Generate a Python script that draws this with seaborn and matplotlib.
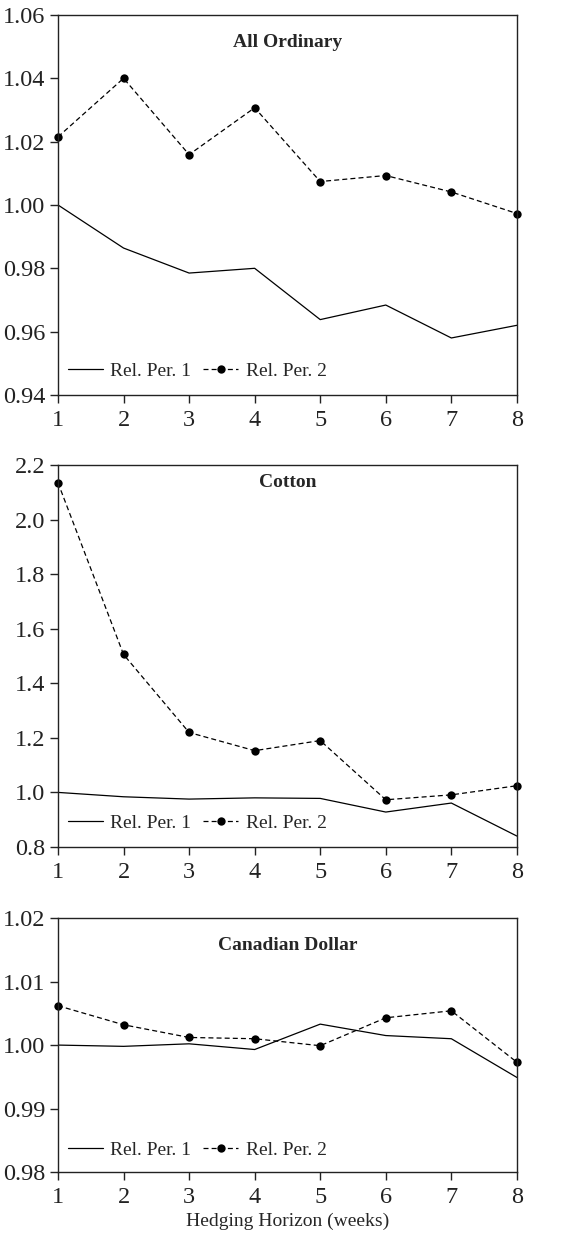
import numpy as np
import pandas as pd
import matplotlib
matplotlib.use("Agg")
import matplotlib.pyplot as plt
import seaborn as sns

# hedging horizon in weeks
horizon = [1, 2, 3, 4, 5, 6, 7, 8]

# relative performance
allord_per1 = [1.000, 0.9864, 0.9785, 0.9800, 0.9638, 0.9684, 0.9580, 0.9620]
allord_per2 = [1.0215, 1.0400, 1.0159, 1.0307, 1.0074, 1.0093, 1.0041, 0.9973]

cotton_per1 = [1.000, 0.984, 0.9755, 0.980, 0.978, 0.928, 0.961, 0.840]
cotton_per2 = [2.135, 1.5055, 1.2196, 1.153, 1.190, 0.973, 0.991, 1.0245]

cad_per1 = [1.0000, 0.9998, 1.0002, 0.9993, 1.0033, 1.0015, 1.0010, 0.9949]
cad_per2 = [1.0062, 1.0032, 1.0012, 1.0010, 0.9999, 1.0043, 1.0054, 0.9973]

titles = ["All Ordinary", "Cotton", "Canadian Dollar"]
ylims = [(0.94, 1.06), (0.8, 2.2), (0.98, 1.02)]
yticks = [np.arange(0.94, 1.0601, 0.02), np.arange(0.8, 2.201, 0.2), np.arange(0.98, 1.0201, 0.01)]
yfmt = ["{:.2f}", "{:.1f}", "{:.2f}"]
# distance of the panel title below the top frame, in pixels
title_drop = [28, 18, 27]

sns.set_style("white")
plt.rcParams["font.family"] = ["Liberation Serif", "DejaVu Serif"]
plt.rcParams["axes.edgecolor"] = "#222222"
plt.rcParams["axes.linewidth"] = 1.0

fig = plt.figure(figsize=(5.78, 12.37), dpi=100)
positions = [
    [0.1003, 0.6807, 0.794, 0.3072],
    [0.1003, 0.3153, 0.794, 0.3088],
    [0.1003, 0.0525, 0.794, 0.2053],
]
series = [(allord_per1, allord_per2), (cotton_per1, cotton_per2), (cad_per1, cad_per2)]

for i, (pos, (p1, p2)) in enumerate(zip(positions, series)):
    ax = fig.add_axes(pos)
    sns.lineplot(x=horizon, y=p1, ax=ax, color="black", linewidth=0.9,
                 label="Rel. Per. 1")
    sns.lineplot(x=horizon, y=p2, ax=ax, color="black", linewidth=0.9,
                 linestyle=(0, (4, 2.5)), marker="o", markersize=6,
                 markeredgewidth=0, label="Rel. Per. 2", clip_on=False)
    ax.set_xlim(1, 8)
    ax.set_ylim(*ylims[i])
    ax.set_xticks(horizon)
    ax.set_yticks(yticks[i])
    ax.set_yticklabels([yfmt[i].format(v) for v in yticks[i]])
    ax.tick_params(axis="both", which="major", direction="out", length=6,
                   width=1.0, labelsize=17.5, colors="#222222",
                   bottom=True, left=True, top=False, right=False)
    ax.tick_params(axis="x", pad=5)
    ax.tick_params(axis="y", pad=3)
    ax.annotate(titles[i], xy=(0.5, 1.0), xycoords="axes fraction",
                xytext=(0, -title_drop[i] * 0.72), textcoords="offset points",
                ha="center", va="center", fontsize=14, fontweight="bold")
    ax.legend(loc="lower left", ncol=2, frameon=False, fontsize=14,
              handlelength=1.8, columnspacing=0.6, handletextpad=0.4,
              borderaxespad=0.1, bbox_to_anchor=(0.0, 0.015))
    ax.set_ylabel("")
    ax.set_xlabel("")
    if i == 2:
        ax.set_xlabel("Hedging Horizon (weeks)", fontsize=14, labelpad=3)

fig.savefig("out.png", dpi=100)
